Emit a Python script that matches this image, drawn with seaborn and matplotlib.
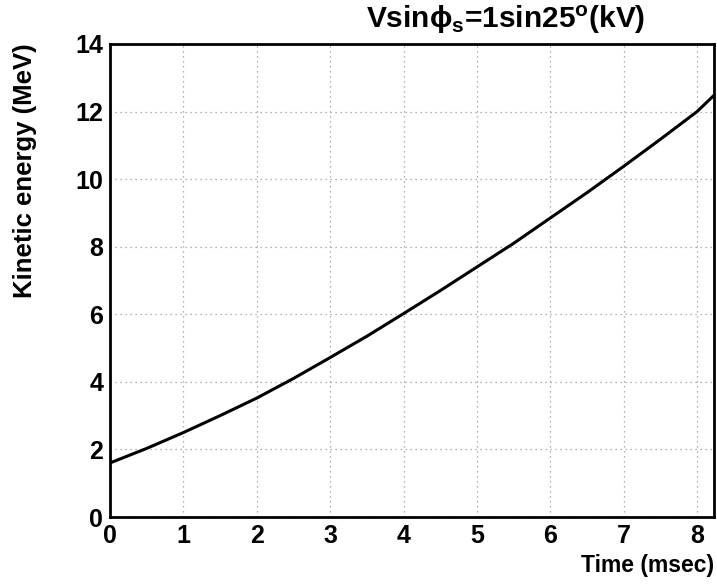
import pandas as pd
import matplotlib
matplotlib.use("Agg")
import matplotlib.pyplot as plt
from matplotlib.ticker import MultipleLocator
import seaborn as sns

# valores
tiempo = [0, 0.5, 1, 1.5, 2, 2.5, 3, 3.5, 4, 4.5, 5, 5.5, 6, 6.5, 7, 7.5, 8, 8.23]
energia = [1.6, 2.03, 2.5, 3.0, 3.52, 4.1, 4.72, 5.35, 6.02, 6.7, 7.4, 8.1,
           8.85, 9.6, 10.38, 11.18, 12.0, 12.48]

titulo = r"Vsin$\mathbf{\phi_s}$=1sin25$\mathbf{^o}$(kV)"
etiqueta_x = "Time (msec)"
etiqueta_y = "Kinetic energy (MeV)"

df = pd.DataFrame({"t": tiempo, "E": energia})

sns.set_style("white")
plt.rcParams["font.family"] = ["Liberation Sans", "DejaVu Sans"]
plt.rcParams["font.weight"] = "bold"
plt.rcParams["text.color"] = "black"
plt.rcParams["xtick.labelcolor"] = "black"
plt.rcParams["ytick.labelcolor"] = "black"
plt.rcParams["mathtext.fontset"] = "custom"
plt.rcParams["mathtext.rm"] = "Liberation Sans:bold"
plt.rcParams["mathtext.it"] = "Liberation Sans:bold"
plt.rcParams["mathtext.bf"] = "Liberation Sans:bold"

fig = plt.figure(figsize=(7.17, 5.84), dpi=100)
ax = fig.add_axes([0.1534, 0.1147, 0.8424, 0.81])

sns.lineplot(data=df, x="t", y="E", color="black", linewidth=2.2, ax=ax)

ax.set_xlim(0, 8.23)
ax.set_ylim(0, 14)
ax.xaxis.set_major_locator(MultipleLocator(1))
ax.xaxis.set_minor_locator(MultipleLocator(0.25))
ax.yaxis.set_major_locator(MultipleLocator(2))
ax.yaxis.set_minor_locator(MultipleLocator(0.5))
ax.grid(True, which="major", color="#999999", linestyle=(0, (1, 3)), linewidth=0.9)

for s in ax.spines.values():
    s.set_color("black")
    s.set_linewidth(2)

ax.tick_params(which="major", direction="in", length=12, width=1, color="#333333",
               labelsize=18, labelcolor="black", pad=5)
ax.tick_params(which="minor", direction="in", length=6, width=1, color="#333333")
for lab in ax.get_xticklabels() + ax.get_yticklabels():
    lab.set_fontweight("bold")

ax.set_xlabel("")
ax.set_ylabel("")
fig.text(0.996, 0.032, etiqueta_x, ha="right", va="center", fontsize=16.5,
         fontweight="bold", color="black")
fig.text(0.035, 0.925, etiqueta_y, ha="center", va="top", rotation=90, fontsize=18.5,
         fontweight="bold", color="black")
fig.text(0.9, 0.966, titulo, ha="right", va="center", fontsize=21.5,
         fontweight="bold", color="black")

fig.savefig("out.png", dpi=100)
